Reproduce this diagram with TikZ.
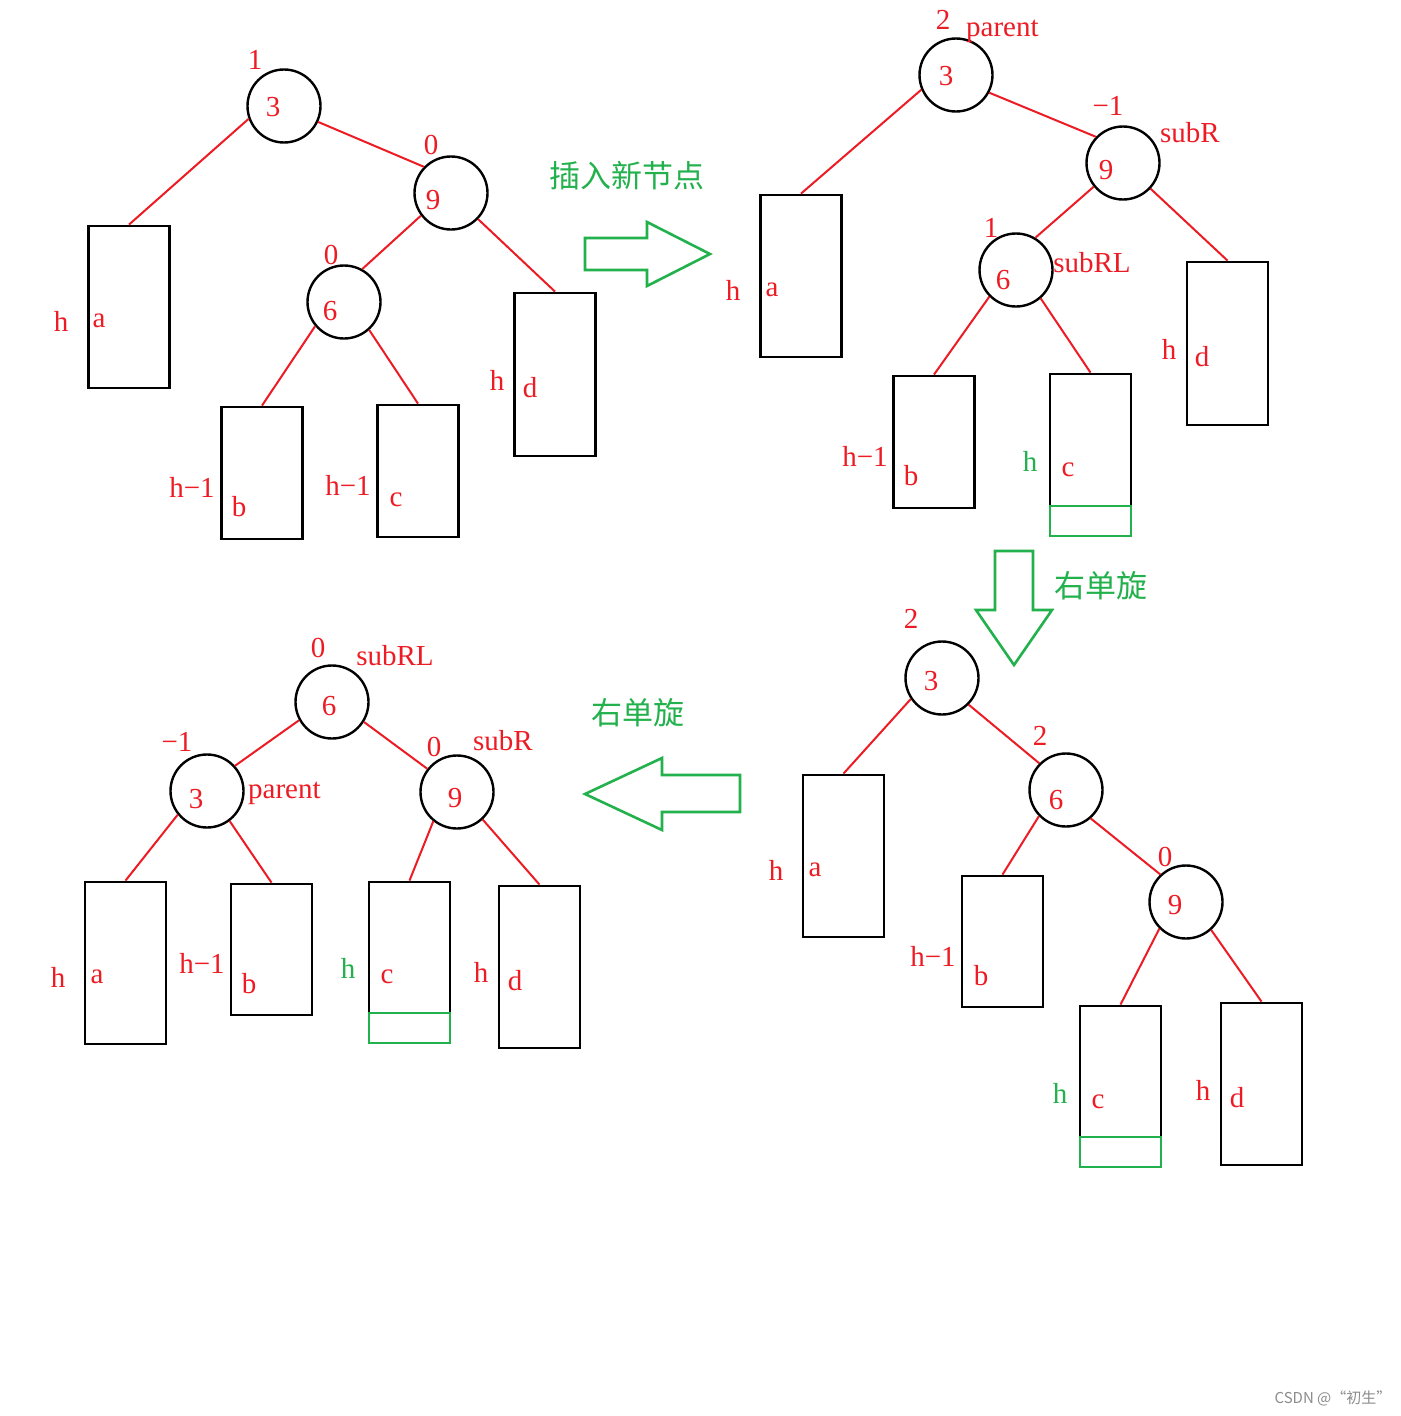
\documentclass[tikz,border=0pt]{standalone}
\usepackage{fontspec}
\setmainfont{Liberation Serif}
\newfontfamily\cjk{Noto Sans CJK SC}
\definecolor{pred}{RGB}{237,28,36}
\definecolor{pgreen}{RGB}{34,177,76}
\begin{document}
\begin{tikzpicture}[x=1pt,y=-1pt,
  circ/.style={circle,draw=black,line width=2.4pt,minimum size=73pt,inner sep=0pt},
  tbox/.style={rectangle,draw=black,line width=2.8pt,minimum width=81pt,inner sep=0pt},
  gbox/.style={rectangle,draw=pgreen,line width=2.6pt,minimum width=81pt,minimum height=30pt,inner sep=0pt},
  lbl/.style={text=pred,inner sep=0pt,font=\fontsize{29}{34}\selectfont},
  glbl/.style={text=pgreen,inner sep=0pt,font=\fontsize{29}{34}\selectfont},
  cjklbl/.style={text=pgreen,inner sep=0pt,font=\cjk\fontsize{31}{36}\selectfont},
  edge/.style={draw=pred,line width=2pt},
  garrow/.style={draw=pgreen,line width=2.6pt,line join=miter}]
\useasboundingbox[fill=white] (0,0) rectangle (1400,1416);

% ===== Panel 1 (top-left) =====
\node[circ] (A3) at (284,106) {};
\node[circ] (A9) at (451,193) {};
\node[circ] (A6) at (344,302) {};
\node[tbox,minimum height=162pt] (Aa) at (129,307) {};
\node[tbox,minimum height=132pt] (Ab) at (262,473) {};
\node[tbox,minimum height=132pt] (Ac) at (418,471) {};
\node[tbox,minimum height=163pt] (Ad) at (555,374.5) {};
\draw[edge] (A3.200) -- (Aa.north);
\draw[edge] (A3.335) -- (A9.136);
\draw[edge] (A9.217) -- (A6.61);
\draw[edge] (A9.316) -- (Ad.north);
\draw[edge] (A6.220) -- (Ab.north);
\draw[edge] (A6.312) -- (Ac.north);
\node[lbl] (A3t) at (273,107) {3};
\node[lbl] (A9t) at (433,200) {9};
\node[lbl] (A6t) at (330,311) {6};
\node[lbl] (A3b) at (255,60) {1};
\node[lbl] (A9b) at (431,145) {0};
\node[lbl] (A6b) at (331,255) {0};
\node[lbl] (Aah) at (61,321) {h};
\node[lbl] (Aat) at (99,321) {a};
\node[lbl] (Abh) at (192,487) {h−1};
\node[lbl] (Abt) at (239,507) {b};
\node[lbl] (Ach) at (348,485) {h−1};
\node[lbl] (Act) at (396,500) {c};
\node[lbl] (Adh) at (497,380) {h};
\node[lbl] (Adt) at (530,388) {d};

% arrow 1
\draw[garrow] (585,238) -- (647,238) -- (647,222) -- (710,254) -- (647,286) -- (647,270) -- (585,270) -- cycle;
\node[cjklbl] (T1) at (627,176) {插入新节点};

% ===== Panel 2 (top-right) =====
\node[circ] (B3) at (956,75) {};
\node[circ] (B9) at (1123,163) {};
\node[circ] (B6) at (1016,270) {};
\node[tbox,minimum height=162pt] (Ba) at (801,276) {};
\node[tbox,minimum height=132pt] (Bb) at (934,442) {};
\node[tbox,minimum height=132pt] (Bc) at (1090.5,440) {};
\node[gbox] (Bg) at (1090.5,521) {};
\node[tbox,minimum height=163pt] (Bd) at (1227.5,343.5) {};
\draw[edge] (B3.203) -- (Ba.north);
\draw[edge] (B3.332) -- (B9.136);
\draw[edge] (B9.219) -- (B6.59);
\draw[edge] (B9.317) -- (Bd.north);
\draw[edge] (B6.225) -- (Bb.north);
\draw[edge] (B6.311) -- (Bc.north);
\node[lbl] (B3t) at (946,76) {3};
\node[lbl] (B9t) at (1106,170) {9};
\node[lbl] (B6t) at (1003,280) {6};
\node[lbl] (B3b) at (943,20) {2};
\node[lbl,anchor=west] (B3n) at (966,31) {parent};
\node[lbl] (B9b) at (1108,106) {−1};
\node[lbl] (B9n) at (1190,133) {subR};
\node[lbl] (B6b) at (991,228) {1};
\node[lbl] (B6n) at (1092,263) {subRL};
\node[lbl] (Bah) at (733,290) {h};
\node[lbl] (Bat) at (772,290) {a};
\node[lbl] (Bbh) at (865,456) {h−1};
\node[lbl] (Bbt) at (911,476) {b};
\node[glbl] (Bch) at (1030,461) {h};
\node[lbl] (Bct) at (1068,470) {c};
\node[lbl] (Bdh) at (1169,349) {h};
\node[lbl] (Bdt) at (1202,357) {d};

% arrow 2 (down)
\draw[garrow] (995,551) -- (1033,551) -- (1033,610) -- (1052,610) -- (1014,665) -- (976,610) -- (995,610) -- cycle;
\node[cjklbl] (T2) at (1101,586) {右单旋};

% ===== Panel 3 (bottom-right) =====
\node[circ] (C3) at (942,678) {};
\node[circ] (C6) at (1066,790) {};
\node[circ] (C9) at (1186,902) {};
\node[tbox,minimum height=162pt] (Ca) at (843.5,856) {};
\node[tbox,minimum height=131pt] (Cb) at (1002.5,941.5) {};
\node[tbox,minimum height=131pt] (Cc) at (1120.5,1071.5) {};
\node[gbox] (Cg) at (1120.5,1152) {};
\node[tbox,minimum height=162pt] (Cd) at (1261.5,1084) {};
\draw[edge] (C3.214) -- (Ca.north);
\draw[edge] (C3.315) -- (C6.135);
\draw[edge] (C6.224) -- (Cb.north);
\draw[edge] (C6.311) -- (C9.133);
\draw[edge] (C9.225) -- (Cc.north);
\draw[edge] (C9.312) -- (Cd.north);
\node[lbl] (C3t) at (931,681) {3};
\node[lbl] (C6t) at (1056,800) {6};
\node[lbl] (C9t) at (1175,905) {9};
\node[lbl] (C3b) at (911,619) {2};
\node[lbl] (C6b) at (1040,736) {2};
\node[lbl] (C9b) at (1165,857) {0};
\node[lbl] (Cah) at (776,870) {h};
\node[lbl] (Cat) at (815,870) {a};
\node[lbl] (Cbh) at (933,956) {h−1};
\node[lbl] (Cbt) at (981,976) {b};
\node[glbl] (Cch) at (1060,1093) {h};
\node[lbl] (Cct) at (1098,1102) {c};
\node[lbl] (Cdh) at (1203,1090) {h};
\node[lbl] (Cdt) at (1237,1098) {d};

% arrow 3 (left)
\draw[garrow] (740,775) -- (662,775) -- (662,758) -- (585,794) -- (662,830) -- (662,812) -- (740,812) -- cycle;
\node[cjklbl] (T3) at (638,713) {右单旋};

% ===== Panel 4 (bottom-left) =====
\node[circ] (D6) at (332,702) {};
\node[circ] (D3) at (207,791) {};
\node[circ] (D9) at (457,792) {};
\node[tbox,minimum height=162pt] (Da) at (125.5,963) {};
\node[tbox,minimum height=131pt] (Db) at (271.5,949.5) {};
\node[tbox,minimum height=131pt] (Dc) at (409.5,947.5) {};
\node[gbox] (Dg) at (409.5,1028) {};
\node[tbox,minimum height=162pt] (Dd) at (539.5,967) {};
\draw[edge] (D6.209) -- (D3.42);
\draw[edge] (D6.328) -- (D9.142);
\draw[edge] (D3.219) -- (Da.north);
\draw[edge] (D3.307) -- (Db.north);
\draw[edge] (D9.231) -- (Dc.north);
\draw[edge] (D9.313) -- (Dd.north);
\node[lbl] (D6t) at (329,706) {6};
\node[lbl] (D3t) at (196,799) {3};
\node[lbl] (D9t) at (455,798) {9};
\node[lbl] (D6b) at (318,648) {0};
\node[lbl] (D6n) at (395,656) {subRL};
\node[lbl] (D3b) at (177,742) {−1};
\node[lbl,anchor=west] (D3n) at (248,793) {parent};
\node[lbl] (D9b) at (434,747) {0};
\node[lbl] (D9n) at (503,741) {subR};
\node[lbl] (Dah) at (58,977) {h};
\node[lbl] (Dat) at (97,977) {a};
\node[lbl] (Dbh) at (202,963) {h−1};
\node[lbl] (Dbt) at (249,984) {b};
\node[glbl] (Dch) at (348,968) {h};
\node[lbl] (Dct) at (387,977) {c};
\node[lbl] (Ddh) at (481,972) {h};
\node[lbl] (Ddt) at (515,981) {d};

% watermark
\node[text=black!45,inner sep=0pt,font=\cjk\fontsize{15}{18}\selectfont] (wm) at (1333,1398) {CSDN @“初生”};
\end{tikzpicture}
\end{document}
